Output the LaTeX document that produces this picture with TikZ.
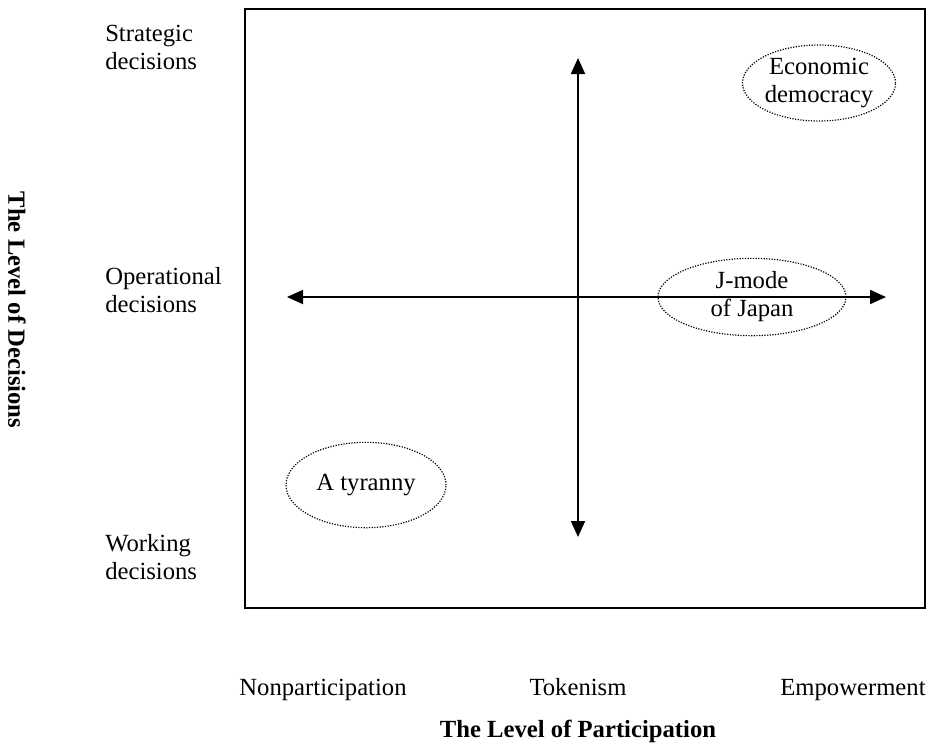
\documentclass[tikz,border=0pt]{standalone}
\usepackage{fontspec}
\setmainfont{Liberation Serif}
\usetikzlibrary{shapes.geometric,arrows.meta}
\tikzset{
  lbl/.style={font=\fontsize{18.5}{21}\selectfont, inner sep=0pt},
  side/.style={lbl, align=left, anchor=west},
  scale label/.style={lbl, anchor=base},
  title/.style={lbl, font=\fontsize{18.5}{21}\selectfont\bfseries},
  zone/.style={lbl, draw, ellipse, align=center, line width=0.9pt,
    dash pattern=on 0.9pt off 1.1pt},
  axis/.style={line width=1.4pt, {Triangle[length=12pt,width=10.5pt]}-{Triangle[length=12pt,width=10.5pt]}}
}
\begin{document}
\begin{tikzpicture}[x=0.75pt,y=-0.75pt]
  \useasboundingbox (0,0) rectangle (934,747);
  \draw[line width=1.1pt] (245,9) rectangle (925,608);
  \draw
    (105,47) node[side] (strat){Strategic\\decisions}
    (105,290) node[side] (oper){Operational\\decisions}
    (105,557) node[side] (work){Working\\decisions}
    (323,695) node[scale label] (nonp){Nonparticipation}
    (578,695) node[scale label] (token){Tokenism}
    (853,695) node[scale label] (empow){Empowerment}
    (578,731) node[title] (part){The Level of Participation}
    (17,310) node[title, rotate=-90] (dec){The Level of Decisions};
  \draw
    (819,83) node[zone, minimum width=93pt, minimum height=57pt] (econ){Economic\\democracy}
    (752,297) node[zone, minimum width=141pt, minimum height=58pt] (jmode){J-mode\\of Japan}
    (366,485) node[zone, minimum width=120pt, minimum height=64pt] (tyr){A tyranny};
  \coordinate (top) at (578,58);
  \coordinate (bot) at (578,537);
  \coordinate (left) at (287,297);
  \coordinate (right) at (886,297);
  \begin{scope}[axis]
    \draw (bot) to (top);
    \draw (left) to (right);
  \end{scope}
\end{tikzpicture}
\end{document}
